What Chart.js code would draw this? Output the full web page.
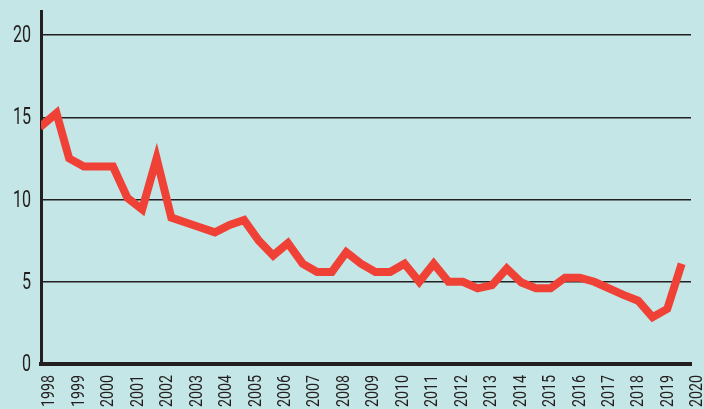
<!DOCTYPE html>
<html>
<head>
<meta charset="utf-8">
<script src="https://cdn.jsdelivr.net/npm/chart.js@4"></script>
<style>
  html, body { margin: 0; padding: 0; background: #c5e6e6; }
  #wrap { width: 704px; height: 409px; position: relative; }
</style>
</head>
<body>
<div id="wrap"><canvas id="c"></canvas></div>
<script>
// Half-yearly observation dates (decimal years)
const dates = [1997.68, 1998.24, 1998.67, 1999.17, 1999.66, 2000.16, 2000.65, 2001.15, 2001.64, 2002.14,
               2002.63, 2003.13, 2003.62, 2004.12, 2004.61, 2005.11, 2005.60, 2006.10, 2006.60, 2007.09,
               2007.59, 2008.08, 2008.58, 2009.07, 2009.57, 2010.06, 2010.56, 2011.05, 2011.55, 2012.04,
               2012.54, 2013.03, 2013.53, 2014.03, 2014.52, 2015.02, 2015.51, 2016.01, 2016.50, 2017.00,
               2017.49, 2017.99, 2018.48, 2018.98, 2019.47];
const values = [14.4, 15.25, 12.5, 12.0, 12.0, 12.0, 10.1, 9.4, 12.5, 8.9,
                8.6, 8.3, 8.0, 8.45, 8.75, 7.5, 6.6, 7.35, 6.1, 5.6,
                5.6, 6.8, 6.1, 5.6, 5.6, 6.1, 5.0, 6.1, 5.0, 5.0,
                4.6, 4.8, 5.8, 4.95, 4.6, 4.6, 5.25, 5.25, 5.0, 4.6,
                4.2, 3.85, 2.85, 3.35, 6.1];
const yearTicks = [1998, 1999, 2000, 2001, 2002, 2003, 2004, 2005, 2006, 2007, 2008,
                   2009, 2010, 2011, 2012, 2013, 2014, 2015, 2016, 2017, 2018, 2019, 2020];
const valueTicks = [0, 5, 10, 15, 20];

const FONT = "Roboto, 'DejaVu Sans Condensed', sans-serif";
const INK = '#231f20';

const points = dates.map((d, i) => ({ x: d, y: values[i] }));

// Condensed tick labels: drawn as text on the canvas, positioned by the chart's scales
const condensedLabels = {
  id: 'condensedLabels',
  afterDraw(chart) {
    const ctx = chart.ctx;
    const xs = chart.scales.x, ys = chart.scales.y;
    ctx.save();
    ctx.fillStyle = INK;
    // y labels
    ctx.font = '24px ' + FONT;
    ctx.textAlign = 'right';
    ctx.textBaseline = 'middle';
    valueTicks.forEach(v => {
      const py = ys.getPixelForValue(v);
      ctx.save();
      ctx.translate(ys.right - 10, py + 1);
      ctx.scale(0.67, 1);
      ctx.fillText(String(v), 0, 0);
      ctx.restore();
    });
    // x labels (rotated, reading upward)
    ctx.font = '18px ' + FONT;
    yearTicks.forEach(yr => {
      const px = xs.getPixelForValue(yr);
      ctx.save();
      ctx.translate(px + 0.5, xs.top + 11);
      ctx.rotate(-Math.PI / 2);
      ctx.scale(0.79, 1);
      ctx.textAlign = 'right';
      ctx.textBaseline = 'middle';
      ctx.fillText(String(yr), 0, 0);
      ctx.restore();
    });
    ctx.restore();
  }
};

new Chart(document.getElementById('c'), {
  type: 'line',
  data: {
    datasets: [{
      data: points,
      borderColor: '#ef4136',
      borderWidth: 8,
      borderJoinStyle: 'miter',
      borderCapStyle: 'butt',
      pointRadius: 0,
      tension: 0,
      fill: false
    }]
  },
  plugins: [condensedLabels],
  options: {
    responsive: true,
    maintainAspectRatio: false,
    animation: false,
    devicePixelRatio: 1,
    layout: { padding: { top: 11, right: 13, left: 0, bottom: 0 } },
    plugins: { legend: { display: false }, tooltip: { enabled: false } },
    scales: {
      x: {
        type: 'linear',
        min: 1997.715,
        max: 2019.786,
        afterBuildTicks: (s) => { s.ticks = yearTicks.map(v => ({ value: v })); },
        afterFit: (s) => { s.height = 45; s.paddingLeft = 0; s.paddingRight = 0; },
        grid: { display: false, drawTicks: false },
        border: { display: true, color: INK, width: 4 },
        ticks: { display: false }
      },
      y: {
        min: 0,
        max: 21.46,
        afterBuildTicks: (s) => { s.ticks = valueTicks.map(v => ({ value: v })); },
        afterFit: (s) => { s.width = 41; s.paddingTop = 0; s.paddingBottom = 0; },
        grid: { display: true, color: INK, lineWidth: 1.5, drawTicks: false },
        border: { display: true, color: INK, width: 3 },
        ticks: { display: false }
      }
    }
  }
});
</script>
</body>
</html>
